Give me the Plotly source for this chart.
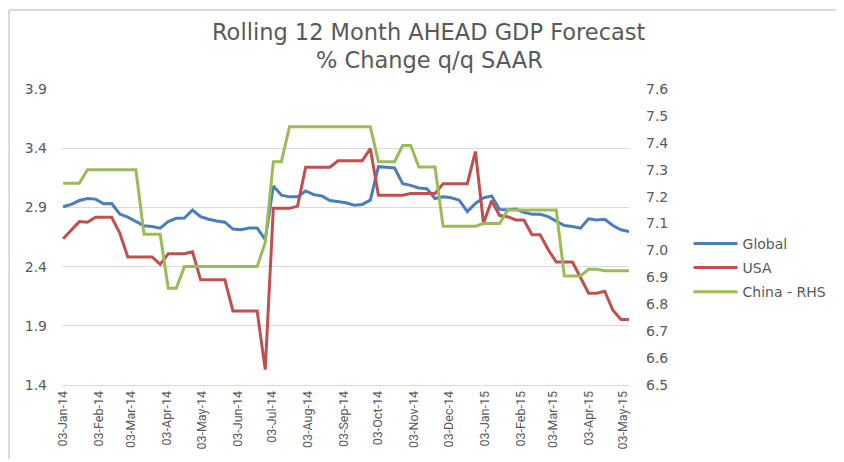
import plotly.graph_objects as go
import pandas as pd

start_date = "2014-01-03"
n_weeks = 71
dates = pd.date_range(start=start_date, periods=n_weeks, freq="7D")

global_vals = [2.906, 2.925, 2.958, 2.975, 2.970, 2.930, 2.933, 2.844, 2.817, 2.780,
               2.744, 2.739, 2.725, 2.780, 2.808, 2.810, 2.878, 2.822, 2.800, 2.786,
               2.775, 2.717, 2.711, 2.725, 2.725, 2.628, 3.080, 3.003, 2.989, 2.989,
               3.039, 3.008, 2.997, 2.958, 2.947, 2.939, 2.919, 2.925, 2.961, 3.244,
               3.239, 3.233, 3.100, 3.086, 3.064, 3.058, 2.975, 2.989, 2.981, 2.961,
               2.864, 2.933, 2.981, 2.997, 2.883, 2.878, 2.886, 2.858, 2.842, 2.842,
               2.822, 2.786, 2.747, 2.739, 2.725, 2.803, 2.794, 2.800, 2.747, 2.711,
               2.697]

usa_vals = [2.636, 2.711, 2.780, 2.775, 2.817, 2.817, 2.817, 2.683, 2.481, 2.481,
            2.481, 2.481, 2.419, 2.508, 2.508, 2.508, 2.525, 2.289, 2.289, 2.289,
            2.289, 2.025, 2.025, 2.025, 2.025, 1.530, 2.892, 2.892, 2.892, 2.911,
            3.239, 3.239, 3.239, 3.239, 3.294, 3.294, 3.294, 3.294, 3.397, 3.003,
            3.003, 3.003, 3.003, 3.017, 3.017, 3.017, 3.017, 3.100, 3.100, 3.100,
            3.100, 3.372, 2.767, 2.956, 2.831, 2.822, 2.794, 2.794, 2.669, 2.669,
            2.544, 2.439, 2.439, 2.439, 2.308, 2.175, 2.175, 2.192, 2.031, 1.953,
            1.953]

china_vals = [7.25, 7.25, 7.25, 7.30, 7.30, 7.30, 7.30, 7.30, 7.30, 7.30,
              7.06, 7.06, 7.06, 6.86, 6.86, 6.94, 6.94, 6.94, 6.94, 6.94,
              6.94, 6.94, 6.94, 6.94, 6.94, 7.03, 7.33, 7.33, 7.46, 7.46,
              7.46, 7.46, 7.46, 7.46, 7.46, 7.46, 7.46, 7.46, 7.46, 7.33,
              7.33, 7.33, 7.39, 7.39, 7.31, 7.31, 7.31, 7.09, 7.09, 7.09,
              7.09, 7.09, 7.10, 7.10, 7.10, 7.15, 7.15, 7.15, 7.15, 7.15,
              7.15, 7.15, 6.905, 6.905, 6.905, 6.93, 6.93, 6.925, 6.925, 6.925,
              6.925]

tick_dates = pd.date_range(start="2014-01-01", end="2015-05-01", freq="MS") + pd.Timedelta(days=2)
tick_labels = [d.strftime("%d-%b-%y") for d in tick_dates]

left_ticks = [1.4, 1.9, 2.4, 2.9, 3.4, 3.9]
right_ticks = [6.5, 6.6, 6.7, 6.8, 6.9, 7.0, 7.1, 7.2, 7.3, 7.4, 7.5, 7.6]

series_names = ["Global", "USA", "China - RHS"]
series_colors = ["#4a7ebb", "#c0504d", "#9bbb59"]

title_lines = ["Rolling 12 Month AHEAD GDP Forecast", "% Change q/q SAAR"]

text_color = "#595959"
grid_color = "#d9d9d9"
main_font = "DejaVu Sans, sans-serif"

fig = go.Figure()
fig.add_trace(go.Scatter(x=dates, y=global_vals, name=series_names[0], mode="lines",
                         line=dict(color=series_colors[0], width=3), legendgroup="g1"))
fig.add_trace(go.Scatter(x=dates, y=usa_vals, name=series_names[1], mode="lines",
                         line=dict(color=series_colors[1], width=3), legendgroup="g2"))
fig.add_trace(go.Scatter(x=dates, y=china_vals, name=series_names[2], mode="lines",
                         line=dict(color=series_colors[2], width=3), legendgroup="g3",
                         yaxis="y2"))

fig.update_layout(
    width=836, height=454,
    margin=dict(l=54, r=214, t=81, b=73),
    paper_bgcolor="white", plot_bgcolor="white",
    font=dict(family=main_font, color=text_color),
    xaxis=dict(type="date", range=["2014-01-02", dates[-1]],
               tickvals=list(tick_dates), ticktext=tick_labels, tickangle=-90,
               tickfont=dict(family="Liberation Sans Narrow, Roboto, sans-serif", size=12.5, color=text_color),
               showgrid=False, showline=True, linecolor=grid_color, linewidth=1,
               ticks="", zeroline=False),
    yaxis=dict(range=[1.4, 3.9], tickvals=left_ticks, ticktext=[f"{v:.1f}" for v in left_ticks],
               showgrid=True, gridcolor=grid_color, gridwidth=1, zeroline=False,
               tickfont=dict(size=14, color=text_color), ticklabelstandoff=14,
               showline=False),
    yaxis2=dict(range=[6.5, 7.6], tickvals=right_ticks, ticktext=[f"{v:.1f}" for v in right_ticks],
                overlaying="y", side="right", showgrid=False, zeroline=False,
                tickfont=dict(size=14, color=text_color), ticklabelstandoff=16,
                showline=False),
    legend=dict(x=1.105, xanchor="left", y=0.531, yanchor="top",
                font=dict(size=14, color=text_color), itemwidth=44,
                tracegroupgap=3, bgcolor="rgba(0,0,0,0)"),
    showlegend=True,
)

for line_text, ypos in zip(title_lines, [1.192, 1.097]):
    fig.add_annotation(text=line_text, xref="paper", yref="paper", x=0.648, y=ypos,
                       xanchor="center", yanchor="middle", showarrow=False,
                       font=dict(family=main_font, size=22.5, color=text_color))

fig.add_shape(type="line", xref="paper", yref="paper", x0=-0.0933, x1=1.38, y0=1.2667, y1=1.2667,
              line=dict(color=grid_color, width=2))
fig.add_shape(type="line", xref="paper", yref="paper", x0=-0.0933, x1=-0.0933, y0=1.2667, y1=-0.25,
              line=dict(color=grid_color, width=2))

fig.write_html("out.html")
